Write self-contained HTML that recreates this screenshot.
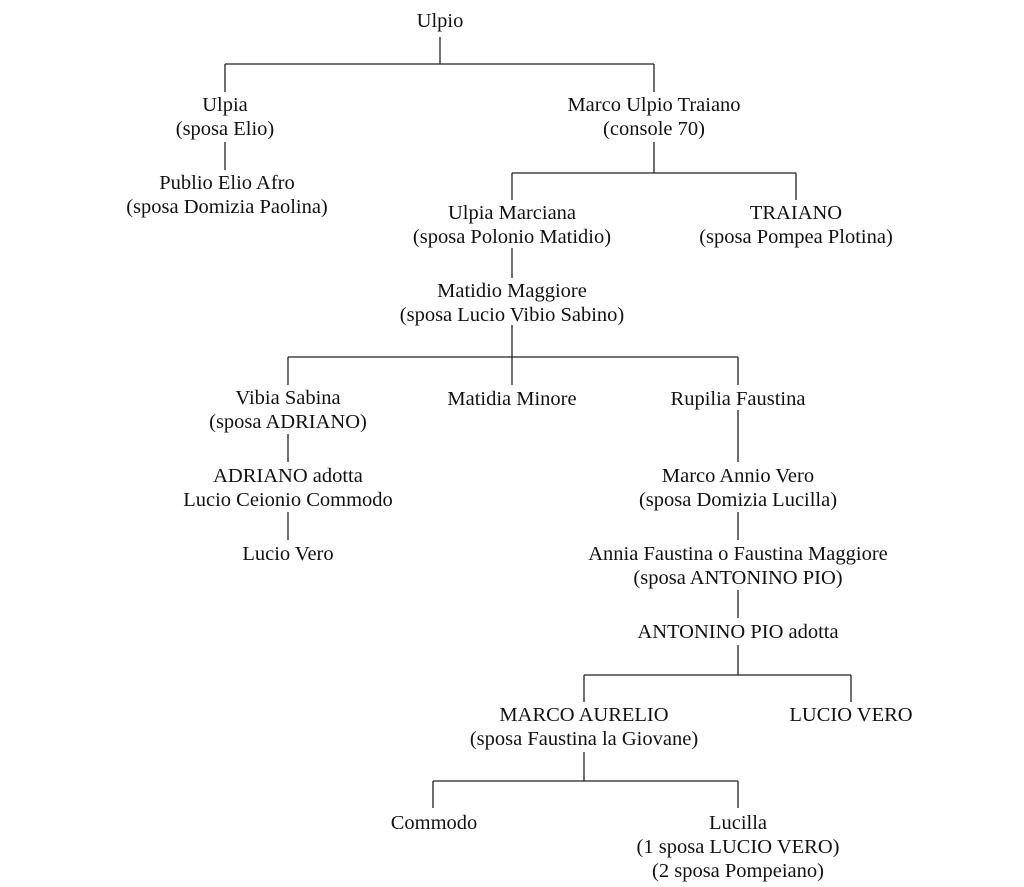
<!DOCTYPE html>
<html><head><meta charset="utf-8"><style>
body{margin:0;width:1024px;height:887px;background:#fff;position:relative;overflow:hidden;font-family:"Liberation Serif",serif;font-size:20.5px;color:#111}
.t{position:absolute;transform:translate(-50%,-50%);text-align:center;white-space:nowrap;line-height:24px}
svg{position:absolute;left:0;top:0}
</style></head><body>
<svg width="1024" height="887" stroke="#222" stroke-width="1.3" fill="none">
<path d="M440 37V64M225 64H654M225 64V92M654 64V92"/>
<path d="M225 142V170"/>
<path d="M654 142V173M512 173H796M512 173V200M796 173V200"/>
<path d="M512 248V278M512 325V385M288 357H738M288 357V385M738 357V385"/>
<path d="M288 434V462M288 512V540M738 410V462M738 512V540M738 590V618M738 645V675M584 675H851M584 675V702M851 675V702"/>
<path d="M584 752V781M433 781H738M433 781V808M738 781V808"/>
</svg>
<div class="t" style="left:440px;top:21px">Ulpio</div>
<div class="t" style="left:225px;top:117px">Ulpia<br>(sposa Elio)</div>
<div class="t" style="left:654px;top:117px">Marco Ulpio Traiano<br>(console 70)</div>
<div class="t" style="left:227px;top:195px">Publio Elio Afro<br>(sposa Domizia Paolina)</div>
<div class="t" style="left:512px;top:225px">Ulpia Marciana<br>(sposa Polonio Matidio)</div>
<div class="t" style="left:796px;top:225px">TRAIANO<br>(sposa Pompea Plotina)</div>
<div class="t" style="left:512px;top:303px">Matidio Maggiore<br>(sposa Lucio Vibio Sabino)</div>
<div class="t" style="left:288px;top:410px">Vibia Sabina<br>(sposa ADRIANO)</div>
<div class="t" style="left:512px;top:399px">Matidia Minore</div>
<div class="t" style="left:738px;top:399px">Rupilia Faustina</div>
<div class="t" style="left:288px;top:488px">ADRIANO adotta<br>Lucio Ceionio Commodo</div>
<div class="t" style="left:288px;top:554px">Lucio Vero</div>
<div class="t" style="left:738px;top:488px">Marco Annio Vero<br>(sposa Domizia Lucilla)</div>
<div class="t" style="left:738px;top:566px">Annia Faustina o Faustina Maggiore<br>(sposa ANTONINO PIO)</div>
<div class="t" style="left:738px;top:632px">ANTONINO PIO adotta</div>
<div class="t" style="left:584px;top:727px">MARCO AURELIO<br>(sposa Faustina la Giovane)</div>
<div class="t" style="left:851px;top:715px">LUCIO VERO</div>
<div class="t" style="left:434px;top:823px">Commodo</div>
<div class="t" style="left:738px;top:847px">Lucilla<br>(1 sposa LUCIO VERO)<br>(2 sposa Pompeiano)</div>
</body></html>
